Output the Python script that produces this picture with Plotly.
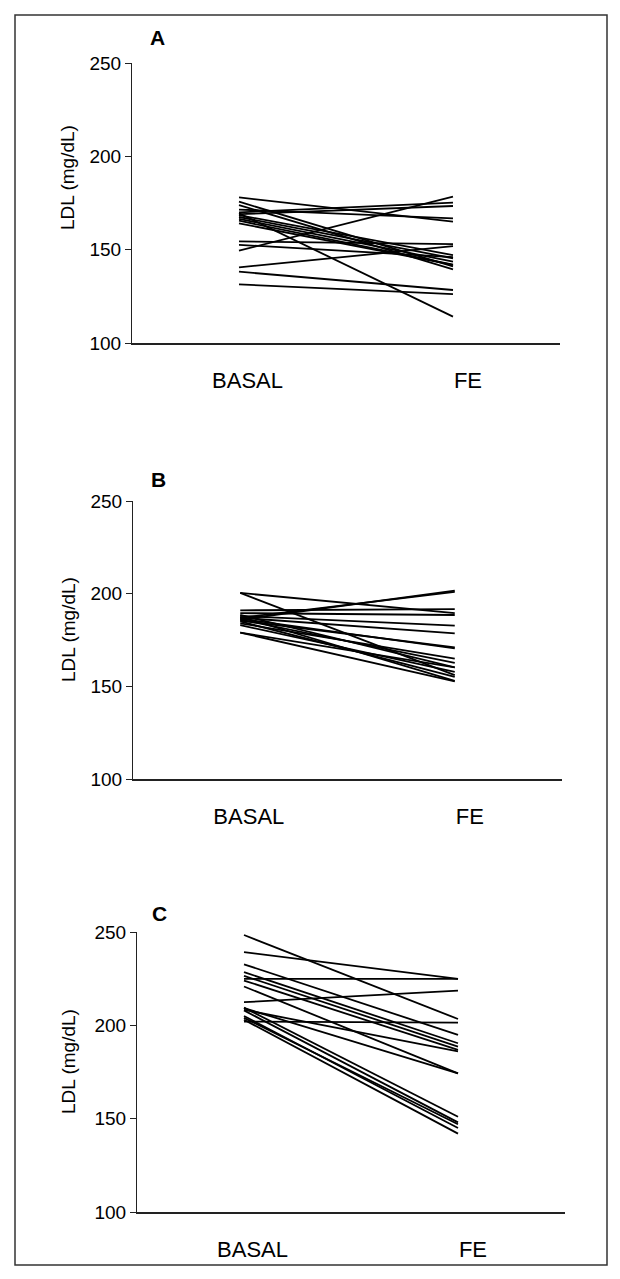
import plotly.graph_objects as go

W, H = 620, 1279

# ---- data (LDL mg/dL), each index = one subject ----
basal_A = [178.0, 175.7, 173.9, 171.5, 170.0, 169.0, 169.5, 168.5, 167.5, 166.5,
           165.5, 164.1, 154.4, 152.6, 149.5, 140.5, 138.2, 131.4]
fe_A    = [165.0, 141.0, 139.5, 166.8, 175.2, 173.4, 114.1, 147.1, 145.4, 143.6,
           142.0, 141.8, 153.0, 146.0, 178.4, 151.9, 128.4, 126.2]

basal_B = [200.4, 200.4, 186.0, 187.0, 191.0, 189.5, 188.0, 187.0, 186.5, 185.5,
           184.0, 186.0, 188.5, 179.0, 179.0, 183.0, 185.0, 187.5]
fe_B    = [189.5, 156.0, 201.6, 201.0, 191.7, 188.5, 182.8, 178.6, 170.5, 171.0,
           165.0, 162.7, 160.2, 160.2, 152.7, 157.8, 155.1, 153.0]

basal_C = [248.4, 239.2, 232.7, 228.5, 226.5, 224.9, 224.0, 220.8, 212.4, 209.2,
           208.3, 202.0, 209.5, 208.0, 205.0, 203.0, 204.0]
fe_C    = [203.4, 224.9, 194.9, 190.4, 188.6, 224.9, 186.8, 174.3, 218.6, 174.3,
           186.0, 201.5, 151.0, 148.0, 145.0, 142.0, 147.0]

conditions = ["BASAL", "FE"]
y_ticks = [100, 150, 200, 250]
panel_labels = ["A", "B", "C"]
y_title = "LDL (mg/dL)"

panels = [(basal_A, fe_A), (basal_B, fe_B), (basal_C, fe_C)]

# pixel layout of each plot area: (x0, x1, ytop, ybottom)
boxes = [(132, 560, 63, 343), (133, 562, 501, 779), (137, 565, 932, 1212)]
title_y = [178, 630, 1062]
letter_pos = [(157, 38), (158, 480), (159, 913)]

FONT = "Liberation Sans, Arial, Helvetica, sans-serif"

fig = go.Figure()
layout = dict(
    width=W, height=H, margin=dict(l=0, r=0, t=0, b=0, pad=0),
    paper_bgcolor="white", plot_bgcolor="white", showlegend=False,
    font=dict(family=FONT, color="black"),
)

annotations = []
for i, ((b, f), (x0, x1, yt, yb)) in enumerate(zip(panels, boxes)):
    n = "" if i == 0 else str(i + 1)
    for bv, fv in zip(b, f):
        fig.add_trace(go.Scatter(
            x=[0, 1], y=[bv, fv], mode="lines",
            line=dict(color="black", width=1.8),
            xaxis="x" + n, yaxis="y" + n, hoverinfo="skip"))
    layout["xaxis" + n] = dict(
        domain=[x0 / W, x1 / W], range=[-0.5, 1.5], anchor="y" + n,
        automargin=False,
        showgrid=False, zeroline=False, showline=True, linecolor="#222",
        linewidth=1.5, ticks="", tickvals=[0.04, 1.07], ticktext=conditions,
        tickfont=dict(size=22, family=FONT, color="black"),
        ticklabelstandoff=17, fixedrange=True)
    layout["yaxis" + n] = dict(
        domain=[1 - yb / H, 1 - yt / H], range=[100, 250], anchor="x" + n,
        automargin=False,
        showgrid=False, zeroline=False, showline=True, linecolor="#222",
        linewidth=1.2, ticks="outside", ticklen=6, tickwidth=1.2, tickcolor="#222",
        tickvals=y_ticks, tickfont=dict(size=19, family=FONT, color="black"),
        fixedrange=True)
    annotations.append(dict(
        text=y_title, textangle=-90, x=68 / W, y=1 - title_y[i] / H,
        xref="paper", yref="paper", xanchor="center", yanchor="middle",
        showarrow=False, font=dict(size=19, family=FONT, color="black")))
    lx, ly = letter_pos[i]
    annotations.append(dict(
        text="<b>" + panel_labels[i] + "</b>", x=lx / W, y=1 - ly / H,
        xref="paper", yref="paper", xanchor="center", yanchor="middle",
        showarrow=False, font=dict(size=21, family=FONT, color="black")))

layout["annotations"] = annotations
layout["shapes"] = [dict(type="rect", xref="paper", yref="paper",
                         x0=15 / W, x1=607 / W, y0=1 - 1265 / H, y1=1 - 15 / H,
                         line=dict(color="#333", width=1.5))]
fig.update_layout(**layout)
fig.write_html("out.html", config={"displayModeBar": False},
               post_script="document.body.style.margin='0';document.body.style.overflow='hidden';")
